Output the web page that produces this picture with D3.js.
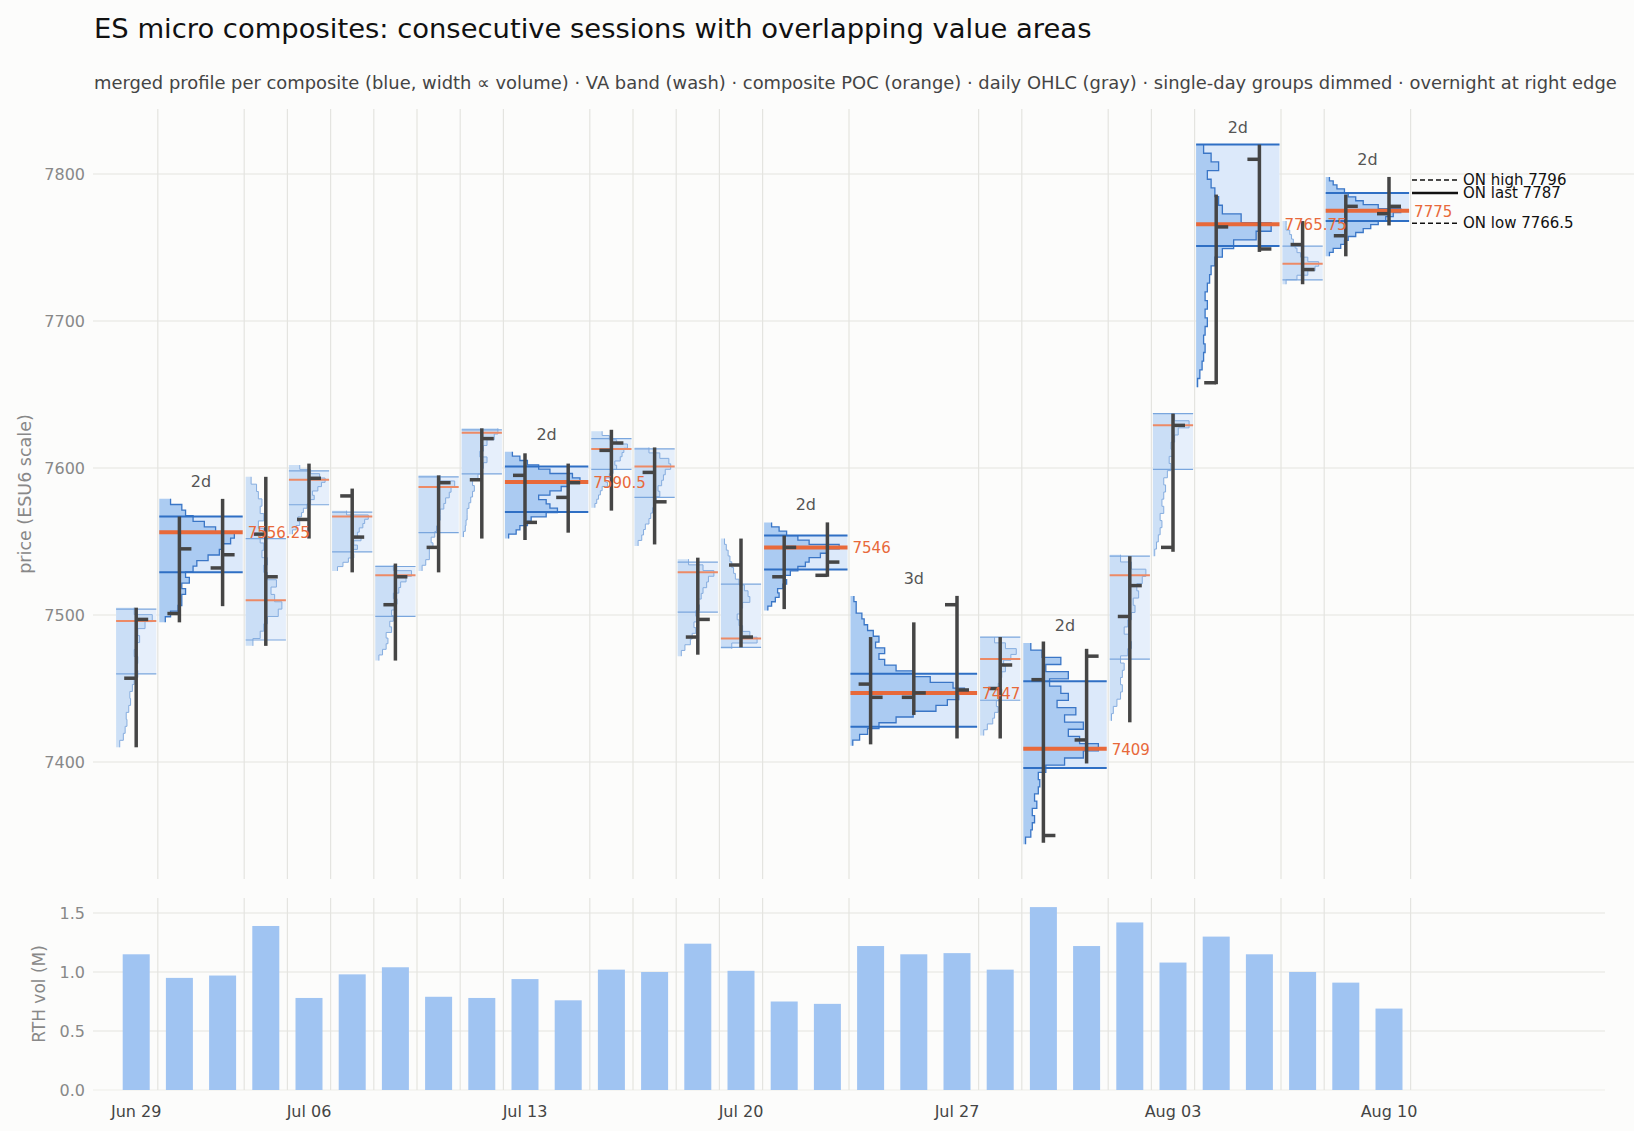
<!DOCTYPE html>
<html><head><meta charset="utf-8">
<script src="https://cdn.jsdelivr.net/npm/d3@7"></script>
<style>body{margin:0;background:#fcfcfb;font-family:"DejaVu Sans",sans-serif}</style>
</head><body><svg id="c" width="1634" height="1131"></svg>
<script>
// ---- DATA ----
const dayLabels = ["Jun 29","Jun 30","Jul 01","Jul 02","Jul 06","Jul 07","Jul 08","Jul 09","Jul 10","Jul 13","Jul 14","Jul 15","Jul 16","Jul 17","Jul 20","Jul 21","Jul 22","Jul 23","Jul 24","Jul 27","Jul 28","Jul 29","Jul 30","Jul 31","Aug 03","Aug 04","Aug 05","Aug 06","Aug 07","Aug 10"];
const dayOpen  = [7457,7501,7532,7555,7565,7581,7507,7546,7592,7595,7580,7612,7597,7485,7534,7526,7527,7453,7444,7507,7450,7456,7415,7499,7546,7658,7810,7752,7758,7773];
const dayHigh  = [7505,7567,7579,7594,7603,7586,7535,7595,7627,7610,7603,7626,7614,7539,7552,7554,7563,7485,7495,7513,7485,7482,7477,7540,7637,7786,7820,7768,7786,7798];
const dayLow   = [7410,7495,7506,7479,7552,7529,7469,7529,7552,7551,7556,7571,7548,7473,7478,7504,7526,7412,7432,7416,7416,7345,7399,7427,7543,7657,7747,7725,7744,7765];
const dayClose = [7497,7545,7541,7526,7593,7553,7526,7590,7620,7563,7590,7617,7577,7497,7485,7546,7536,7444,7447,7449,7466,7350,7472,7520,7629,7764,7749,7735,7778,7778];
const rthVol   = [1.15,0.95,0.97,1.39,0.78,0.98,1.04,0.79,0.78,0.94,0.76,1.02,1.00,1.24,1.01,0.75,0.73,1.22,1.15,1.16,1.02,1.55,1.22,1.42,1.08,1.30,1.15,1.00,0.91,0.69];

const groupFirst = [0,1,3,4,5,6,7,8,9,11,12,13,14,15,17,20,21,23,24,25,27,28];
const groupDays  = [1,2,1,1,1,1,1,1,2,1,1,1,1,2,3,1,2,1,1,2,1,2];
const groupPOC   = [7496,7556.25,7510,7592,7567,7527,7587,7624,7590.5,7613,7601,7529,7484,7546,7447,7470,7409,7527,7629,7765.75,7739,7775];
const groupVAH   = [7504,7567,7552,7598,7570,7533,7594,7626,7601,7620,7613,7536,7521,7554,7460,7485,7455,7540,7637,7820,7751,7787];
const groupVAL   = [7460,7529,7483,7575,7543,7499,7556,7596,7570,7599,7580,7502,7478,7531,7424,7442,7396,7470,7599,7751,7728,7768];
const profLow    = [7410,7495,7479,7555,7530,7469,7530,7553,7552,7573,7547,7472,7477,7503,7411,7418,7344,7428,7540,7655,7725,7744];
const profHigh   = [7505,7579,7594,7602,7571,7534,7595,7627,7611,7625,7614,7538,7552,7563,7513,7485,7481,7541,7637,7820,7768,7798];
const profiles = [
 [0.1,0.2,0.25,0.3,0.28,0.35,0.4,0.38,0.45,0.5,0.6,0.55,0.6,0.5,0.55,0.65,0.6,0.8,1.0,0.5],
 [0.08,0.15,0.25,0.3,0.3,0.35,0.3,0.4,0.35,0.45,0.5,0.65,0.8,0.85,0.95,1.0,0.75,0.6,0.45,0.35,0.3,0.15],
 [0.2,0.4,0.5,0.6,0.9,1.0,0.8,0.7,0.85,0.6,0.5,0.6,0.45,0.5,0.4,0.5,0.35,0.5,0.4,0.45,0.35,0.3,0.15],
 [0.1,0.2,0.3,0.25,0.35,0.4,0.5,0.6,0.7,0.65,0.8,0.9,1.0,0.85,0.6,0.3],
 [0.15,0.3,0.45,0.6,0.55,0.7,0.6,0.8,0.7,0.75,0.85,0.9,1.0,0.4],
 [0.1,0.2,0.3,0.35,0.3,0.45,0.4,0.5,0.45,0.55,0.6,0.5,0.65,0.7,0.85,1.0,0.5],
 [0.1,0.2,0.3,0.3,0.4,0.35,0.45,0.5,0.55,0.6,0.6,0.7,0.75,0.85,0.9,1.0,0.6],
 [0.05,0.1,0.12,0.15,0.15,0.2,0.25,0.3,0.35,0.3,0.45,0.55,0.6,0.7,0.5,0.6,0.7,0.9,1.0],
 [0.05,0.15,0.2,0.3,0.35,0.55,0.7,0.6,0.55,0.45,0.6,0.75,0.85,1.0,0.9,0.6,0.45,0.3,0.2,0.1],
 [0.1,0.15,0.2,0.25,0.3,0.45,0.4,0.5,0.6,0.7,0.65,0.8,0.85,0.9,1.0,0.7,0.5,0.3],
 [0.1,0.2,0.25,0.3,0.4,0.45,0.5,0.55,0.6,0.7,0.65,0.75,0.8,0.85,1.0,0.95,0.7,0.4],
 [0.1,0.2,0.35,0.4,0.5,0.45,0.55,0.5,0.6,0.55,0.65,0.7,0.8,0.85,1.0,0.7,0.3],
 [0.3,1.0,0.8,0.6,0.5,0.45,0.55,0.6,0.8,0.75,0.65,0.5,0.4,0.35,0.3,0.25,0.2,0.15,0.1],
 [0.05,0.1,0.15,0.2,0.18,0.25,0.3,0.28,0.35,0.45,0.55,0.6,0.75,0.85,1.0,0.6,0.45,0.3,0.2,0.1],
 [0.02,0.08,0.15,0.25,0.4,0.55,0.75,0.85,0.95,1.0,0.9,0.7,0.55,0.4,0.3,0.25,0.3,0.22,0.25,0.2,0.15,0.12,0.1,0.05,0.05,0.03],
 [0.1,0.2,0.35,0.4,0.5,0.45,0.55,0.6,0.5,0.55,0.6,0.7,0.65,0.85,1.0,0.7,0.4],
 [0.03,0.1,0.12,0.15,0.12,0.18,0.15,0.2,0.22,0.2,0.3,0.55,0.8,1.0,0.75,0.6,0.8,0.55,0.7,0.45,0.6,0.5,0.35,0.6,0.3,0.5,0.25,0.1],
 [0.05,0.1,0.2,0.3,0.35,0.3,0.35,0.4,0.3,0.5,0.6,0.55,0.4,0.5,0.6,0.7,0.65,0.8,0.75,0.9,1.0,0.6,0.3],
 [0.05,0.1,0.15,0.2,0.25,0.2,0.3,0.25,0.3,0.35,0.3,0.4,0.5,0.45,0.55,0.5,0.6,0.7,1.0,0.6],
 [0.02,0.05,0.08,0.1,0.12,0.1,0.12,0.15,0.12,0.15,0.12,0.15,0.18,0.2,0.25,0.35,0.5,0.8,1.0,0.6,0.35,0.3,0.25,0.2,0.15,0.3,0.2,0.1],
 [0.1,0.4,0.7,0.9,1.0,0.7,0.5,0.4,0.35,0.3,0.25,0.2,0.1,0.1],
 [0.05,0.1,0.2,0.25,0.3,0.4,0.5,0.6,0.7,0.8,0.9,1.0,0.7,0.5,0.4,0.3,0.25,0.15,0.1,0.05]
];
const onLevels = [["ON high", 7796, "dash"],["ON last", 7787, "solid"],["ON low", 7766.5, "dash"]];
const priceTicks = [7400,7500,7600,7700,7800];
const volTicks = [0,0.5,1.0,1.5];
const dateTickIdx = [0,4,9,14,19,24,29];

// ---- DRAW ----
const svg = d3.select("#c");
const x = d3.scaleLinear().domain([-1,34]).range([93,1605]);
const y = d3.scaleLinear().domain([7400,7800]).range([762,174]);
const yv = d3.scaleLinear().domain([0,1.5]).range([1090,913]);
const topT=109, topB=879, botT=898, botB=1090;
const grid="#e4e4e0";

svg.append("text").attr("x",94).attr("y",38).attr("font-size",27.4).attr("fill","#111")
 .text("ES micro composites: consecutive sessions with overlapping value areas");
svg.append("text").attr("x",94).attr("y",89).attr("font-size",17.9).attr("fill","#444")
 .text("merged profile per composite (blue, width \u221d volume) \u00b7 VA band (wash) \u00b7 composite POC (orange) \u00b7 daily OHLC (gray) \u00b7 single-day groups dimmed \u00b7 overnight at right edge");

const g = svg.append("g");
priceTicks.forEach(p=>{
  g.append("line").attr("x1",93).attr("x2",1634).attr("y1",y(p)).attr("y2",y(p)).attr("stroke",grid).attr("stroke-width",1.2);
  g.append("text").attr("x",85).attr("y",y(p)+6).attr("text-anchor","end").attr("font-size",16).attr("fill","#888").text(p);
});
volTicks.forEach(v=>{
  g.append("line").attr("x1",93).attr("x2",1605).attr("y1",yv(v)).attr("y2",yv(v)).attr("stroke",v===0?"#eeeeea":grid).attr("stroke-width",1.2);
  g.append("text").attr("x",85).attr("y",yv(v)+6).attr("text-anchor","end").attr("font-size",16).attr("fill","#888").text(v.toFixed(1));
});
groupFirst.forEach((f,i)=>{
  const xe = x(f+groupDays[i]-0.5);
  g.append("line").attr("x1",xe).attr("x2",xe).attr("y1",topT).attr("y2",topB).attr("stroke",grid).attr("stroke-width",1.2);
  g.append("line").attr("x1",xe).attr("x2",xe).attr("y1",botT).attr("y2",botB).attr("stroke",grid).attr("stroke-width",1.2);
});
svg.append("text").attr("transform",`translate(31,${(topT+topB)/2}) rotate(-90)`).attr("text-anchor","middle")
 .attr("font-size",17.5).attr("fill","#888").text("price (ESU6 scale)");
svg.append("text").attr("transform",`translate(45,${(botT+botB)/2}) rotate(-90)`).attr("text-anchor","middle")
 .attr("font-size",17).attr("fill","#888").text("RTH vol (M)");
dateTickIdx.forEach(i=>{
  svg.append("text").attr("x",x(i)).attr("y",1117).attr("text-anchor","middle").attr("font-size",16).attr("fill","#444").text(dayLabels[i]);
});

svg.append("g").selectAll("rect").data(rthVol).join("rect")
 .attr("x",(d,i)=>x(i)-13.5).attr("width",27).attr("y",d=>yv(d)).attr("height",d=>yv(0)-yv(d)).attr("fill","#a0c4f2");

const area = d3.area().x0(d=>d.x0).x1(d=>d.x1).y(d=>d.y);
const labelLayer = [];
groupFirst.forEach((f,i)=>{
  const multi = groupDays[i]>1;
  const x0 = x(f-0.5)+1.5, x1 = x(f+groupDays[i]-0.5)-1.5, bw = x1-x0;
  const gg = svg.append("g");
  gg.append("rect").attr("x",x0).attr("width",bw).attr("y",y(groupVAH[i])).attr("height",y(groupVAL[i])-y(groupVAH[i]))
    .attr("fill",multi?"#dce9fa":"#e6effb");
  const prof = profiles[i], n = prof.length, step=(profHigh[i]-profLow[i])/n;
  const pts=[];
  prof.forEach((w,k)=>{
    const pl = profLow[i]+k*step, ph = pl+step, xx = x0 + w*bw*0.9;
    pts.push({x0:x0,x1:xx,y:y(pl)}); pts.push({x0:x0,x1:xx,y:y(ph)});
  });
  gg.append("path").attr("d",area(pts)).attr("fill",multi?"#a8c9f1":"#c4daf5").attr("fill-opacity",multi?0.95:0.85);
  const ln = d3.line().x(d=>d.x1).y(d=>d.y);
  gg.append("path").attr("d",ln(pts)).attr("fill","none").attr("stroke",multi?"#3a76c6":"#86addf").attr("stroke-width",multi?1.3:1);
  [groupVAH[i],groupVAL[i]].forEach(v=>{
    gg.append("line").attr("x1",x0).attr("x2",x1).attr("y1",y(v)).attr("y2",y(v))
      .attr("stroke",multi?"#2f6fc4":"#7aa6dd").attr("stroke-width",multi?2:1.2);
  });
  gg.append("line").attr("x1",x0).attr("x2",x1).attr("y1",y(groupPOC[i])).attr("y2",y(groupPOC[i]))
    .attr("stroke",multi?"#e8693a":"#ec8a66").attr("stroke-width",multi?4:2);
  if(multi) labelLayer.push({i,x0,x1});
});

const oh = svg.append("g").attr("stroke","#454545").attr("stroke-width",3.5);
dayOpen.forEach((o,i)=>{
  const cx=x(i);
  oh.append("line").attr("x1",cx).attr("x2",cx).attr("y1",y(dayHigh[i])).attr("y2",y(dayLow[i]));
  oh.append("line").attr("x1",cx-12).attr("x2",cx).attr("y1",y(o)).attr("y2",y(o));
  oh.append("line").attr("x1",cx).attr("x2",cx+12).attr("y1",y(dayClose[i])).attr("y2",y(dayClose[i]));
});

labelLayer.forEach(({i,x0,x1})=>{
  svg.append("text").attr("x",x1+5).attr("y",y(groupPOC[i])+6).attr("font-size",15).attr("fill","#e8693a").text(groupPOC[i]);
  svg.append("text").attr("x",(x0+x1)/2).attr("y",y(profHigh[i])-12).attr("text-anchor","middle").attr("font-size",16).attr("fill","#555").text(groupDays[i]+"d");
});

onLevels.forEach(([lab,v,st])=>{
  svg.append("line").attr("x1",1412).attr("x2",1458).attr("y1",y(v)).attr("y2",y(v)).attr("stroke","#111")
    .attr("stroke-width",st==="solid"?2.5:1.5).attr("stroke-dasharray",st==="solid"?null:"5,3");
  svg.append("text").attr("x",1463).attr("y",y(v)+5).attr("font-size",15).attr("fill","#111").text(lab+" "+v);
});
</script></body></html>
